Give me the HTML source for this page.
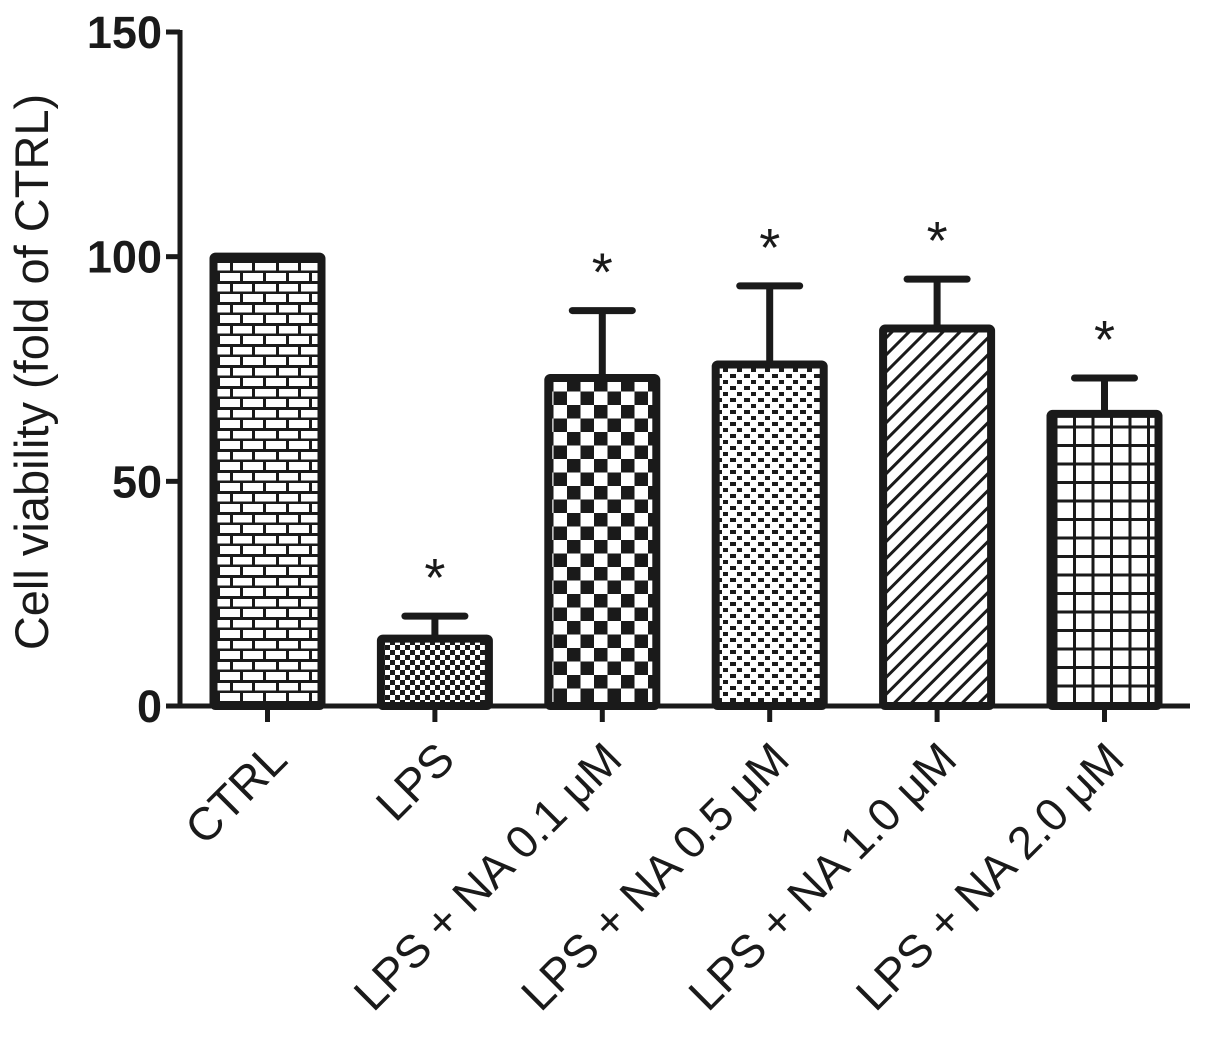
<!DOCTYPE html>
<html><head><meta charset="utf-8"><style>
html,body{margin:0;padding:0;background:#fff;}
svg{display:block;font-family:"Liberation Sans",Arial,sans-serif;}
</style></head><body>
<svg id="chart" width="1205" height="1038" viewBox="0 0 1205 1038" xmlns="http://www.w3.org/2000/svg">
<defs>
<pattern id="p0" patternUnits="userSpaceOnUse" width="46" height="21" x="0" y="0">
<rect width="46" height="21" fill="#fff"/>
<rect x="0" y="8" width="46" height="3" fill="#1a1a1a"/><rect x="0" y="18.5" width="46" height="3" fill="#1a1a1a"/>
<rect x="10" y="0" width="3" height="10" fill="#1a1a1a"/><rect x="33" y="0" width="3" height="10" fill="#1a1a1a"/>
<rect x="0" y="10" width="3" height="10" fill="#1a1a1a"/><rect x="22" y="10" width="3" height="10" fill="#1a1a1a"/>
</pattern>
<pattern id="p1" patternUnits="userSpaceOnUse" width="10" height="10"><rect width="10" height="10" fill="#fff"/><rect width="5" height="5" fill="#1a1a1a"/><rect x="5" y="5" width="5" height="5" fill="#1a1a1a"/></pattern>
<pattern id="p2" patternUnits="userSpaceOnUse" width="27" height="27"><rect width="27" height="27" fill="#fff"/><rect width="13.5" height="13.5" fill="#1a1a1a"/><rect x="13.5" y="13.5" width="13.5" height="13.5" fill="#1a1a1a"/></pattern>
<pattern id="p3" patternUnits="userSpaceOnUse" width="14" height="12"><rect width="14" height="12" fill="#fff"/><rect x="2" y="2" width="6" height="4" fill="#1a1a1a"/><rect x="9" y="8" width="6" height="4" fill="#1a1a1a"/></pattern>
<pattern id="p4" patternUnits="userSpaceOnUse" width="12" height="12" patternTransform="rotate(45)"><rect width="12" height="12" fill="#fff"/><rect x="0" y="0" width="3" height="12" fill="#1a1a1a"/></pattern>
<pattern id="p5" patternUnits="userSpaceOnUse" width="18.5" height="18.5"><rect width="18.5" height="18.5" fill="#fff"/><rect x="0" y="0" width="3" height="18.5" fill="#1a1a1a"/><rect x="0" y="0" width="18.5" height="3" fill="#1a1a1a"/></pattern>
</defs>
<g id="plot"></g>
</svg>
<script>
const categories = ["CTRL","LPS","LPS + NA 0.1 μM","LPS + NA 0.5 μM","LPS + NA 1.0 μM","LPS + NA 2.0 μM"];
const values = [100, 15, 73, 76, 84, 65];
const errors = [0, 5, 15, 17.5, 11, 8];
const significant = [false, true, true, true, true, true];
const yTicks = [0, 50, 100, 150];

const NS = "http://www.w3.org/2000/svg";
const g = document.getElementById("plot");
const X0 = 180, XEND = 1190, Y0 = 706, YTOP = 32;
const yScale = v => Y0 - (v / 150) * (Y0 - YTOP);
const step = 167.4, firstCenter = 267.5, barW = 108;
const xCenter = i => firstCenter + i * step;
function mk(tag, attrs, parent) { const e = document.createElementNS(NS, tag); for (const k in attrs) e.setAttribute(k, attrs[k]); (parent || g).appendChild(e); return e; }

categories.forEach((c, i) => {
  const cx = xCenter(i), top = yScale(values[i]);
  if (errors[i] > 0) {
    const et = yScale(values[i] + errors[i]);
    const l = mk("line", {x1: cx, x2: cx, y1: top, y2: et, stroke: "#1a1a1a", "stroke-width": 7});
    
    
    const cap = mk("line", {x1: cx - 30, x2: cx + 30, y1: et, y2: et, stroke: "#1a1a1a", "stroke-width": 7, "stroke-linecap": "round"});
    
    
  }
  const r = mk("rect", {x: cx - barW / 2, y: top, width: barW, height: Y0 - top, fill: "url(#p" + i + ")", stroke: "#1a1a1a", "stroke-width": 8, rx: 2});
  
  
  if (significant[i]) {
    const s = mk("text", {x: cx, y: yScale(values[i] + errors[i]) - 20, "text-anchor": "middle", "font-size": 54, fill: "#1a1a1a"});
    s.textContent = "*";
    
    
  }
  const t = mk("line", {x1: cx, x2: cx, y1: Y0, y2: Y0 + 16, stroke: "#1a1a1a", "stroke-width": 5});
  
  
  const lbl = mk("text", {x: 0, y: 0, "text-anchor": "end", "font-size": 46, fill: "#1a1a1a", transform: "translate(" + (cx + 22) + "," + (Y0 + 56) + ") rotate(-45)"});
  lbl.textContent = c;
  
  
});

const ya = mk("line", {x1: X0, x2: X0, y1: YTOP - 2, y2: Y0 + 2, stroke: "#1a1a1a", "stroke-width": 5});


const xa = mk("line", {x1: X0 - 2, x2: XEND, y1: Y0, y2: Y0, stroke: "#1a1a1a", "stroke-width": 5});


yTicks.forEach(v => {
  const y = yScale(v);
  const tk = mk("line", {x1: X0 - 14, x2: X0, y1: y, y2: y, stroke: "#1a1a1a", "stroke-width": 5});
  
  
  const tl = mk("text", {x: X0 - 18, y: y + 16, "text-anchor": "end", "font-size": 45, "font-weight": "bold", fill: "#1a1a1a"});
  tl.textContent = v;
  
  
});
const yt = mk("text", {x: 0, y: 0, "text-anchor": "middle", "font-size": 47, fill: "#1a1a1a", transform: "translate(48,372) rotate(-90)", "xml:space": "preserve"});
yt.textContent = "Cell viability (fold of  CTRL)";


</script>
</body></html>
